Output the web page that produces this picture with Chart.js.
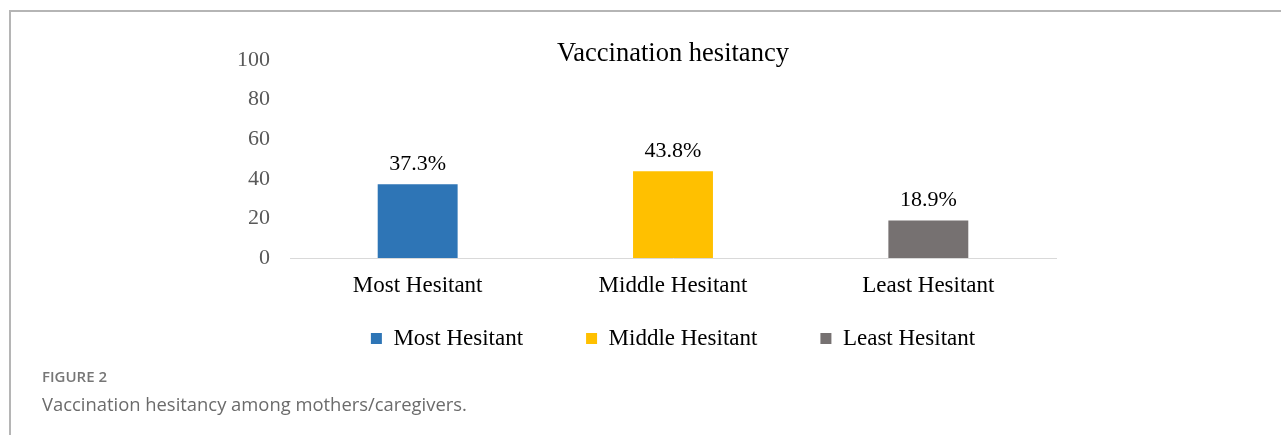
<!DOCTYPE html>
<html>
<head>
<meta charset="utf-8">
<script src="https://cdn.jsdelivr.net/npm/chart.js@4"></script>
<style>
  html, body { margin: 0; padding: 0; background: #fff; }
  #wrap { position: relative; width: 1281px; height: 435px; overflow: hidden; }
  #frame { position: absolute; left: 9px; top: 10px; right: -5px; bottom: -5px; border-top: 2px solid #b5b5b5; border-left: 2px solid #b5b5b5; }
  canvas { position: absolute; left: 0; top: 0; }
  .fig { position: absolute; left: 42px; top: 366px; font-family: "Open Sans", sans-serif; font-weight: 600; font-size: 15px; color: #767676; }
  .cap { position: absolute; left: 42px; top: 391px; font-family: "Open Sans", sans-serif; font-size: 18.4px; color: #6b6b6b; }
</style>
</head>
<body>
<div id="wrap">
  <div id="frame"></div>
  <canvas id="barChart" width="1281" height="435"></canvas>
  <div class="fig">FIGURE 2</div>
  <div class="cap">Vaccination hesitancy among mothers/caregivers.</div>
</div>
<script>
// du lieu
const categories = ["Most Hesitant", "Middle Hesitant", "Least Hesitant"];
const values = [37.3, 43.8, 18.9];
const barColors = ["#2E75B6", "#FFC000", "#767171"];
const yTicks = [0, 20, 40, 60, 80, 100];

// ghi % tren dau cot
const barValueLabels = {
  id: "barValueLabels",
  afterDatasetsDraw(chart) {
    const ctx = chart.ctx;
    const meta = chart.getDatasetMeta(0);
    ctx.save();
    ctx.font = '22px "Liberation Serif", "Times New Roman", serif';
    ctx.fillStyle = "#000";
    ctx.textAlign = "center";
    ctx.textBaseline = "middle";
    meta.data.forEach((bar, i) => {
      ctx.fillText(values[i].toFixed(1) + "%", bar.x, bar.y - 20);
    });
    ctx.restore();
  },
};

const serif = '"Liberation Serif", "Times New Roman", serif';

const barChart = new Chart(document.getElementById("barChart"), {
  type: "bar",
  data: {
    labels: categories,
    datasets: [
      {
        label: "Vaccination hesitancy",
        data: values,
        backgroundColor: barColors,
        borderWidth: 0,
        barPercentage: 0.313,
        categoryPercentage: 1,
      },
    ],
  },
  options: {
    responsive: false,
    animation: false,
    layout: {
      padding: { left: 230, right: 225, top: 0, bottom: 75 },
    },
    plugins: {
      title: {
        display: true,
        text: "Vaccination hesitancy",
        fullSize: false,
        color: "#000",
        font: { family: serif, size: 26.5, weight: "normal" },
        padding: { top: 38, bottom: -9.8 },
      },
      legend: {
        position: "bottom",
        fullSize: false,
        // title rong, padding am de keo legend len sat truc x
        title: {
          display: true,
          text: "",
          font: { size: 10 },
          padding: { top: -61.6, bottom: 0 },
        },
        labels: {
          color: "#000",
          font: { family: serif, size: 23 },
          boxWidth: 11,
          boxHeight: 11,
          padding: 63,
          generateLabels: () =>
            categories.map((c, i) => ({
              text: c,
              fillStyle: barColors[i],
              strokeStyle: barColors[i],
              fontColor: "#000",
              lineWidth: 0,
              index: i,
            })),
        },
      },
      tooltip: { enabled: false },
    },
    scales: {
      x: {
        grid: { display: false, drawTicks: false },
        border: { display: true, color: "#d9d9d9", width: 1 },
        ticks: {
          color: "#000",
          padding: 14,
          font: { family: serif, size: 23 },
        },
      },
      y: {
        min: 0,
        max: 100,
        afterBuildTicks: (scale) => {
          scale.ticks = yTicks.map((v) => ({ value: v }));
        },
        grid: { display: false, drawTicks: false },
        border: { display: false },
        ticks: {
          color: "#595959",
          padding: 20,
          font: { family: serif, size: 22 },
        },
        afterFit: (scale) => {
          scale.width = 60;
        },
      },
    },
  },
  plugins: [barValueLabels],
});
</script>
</body>
</html>
